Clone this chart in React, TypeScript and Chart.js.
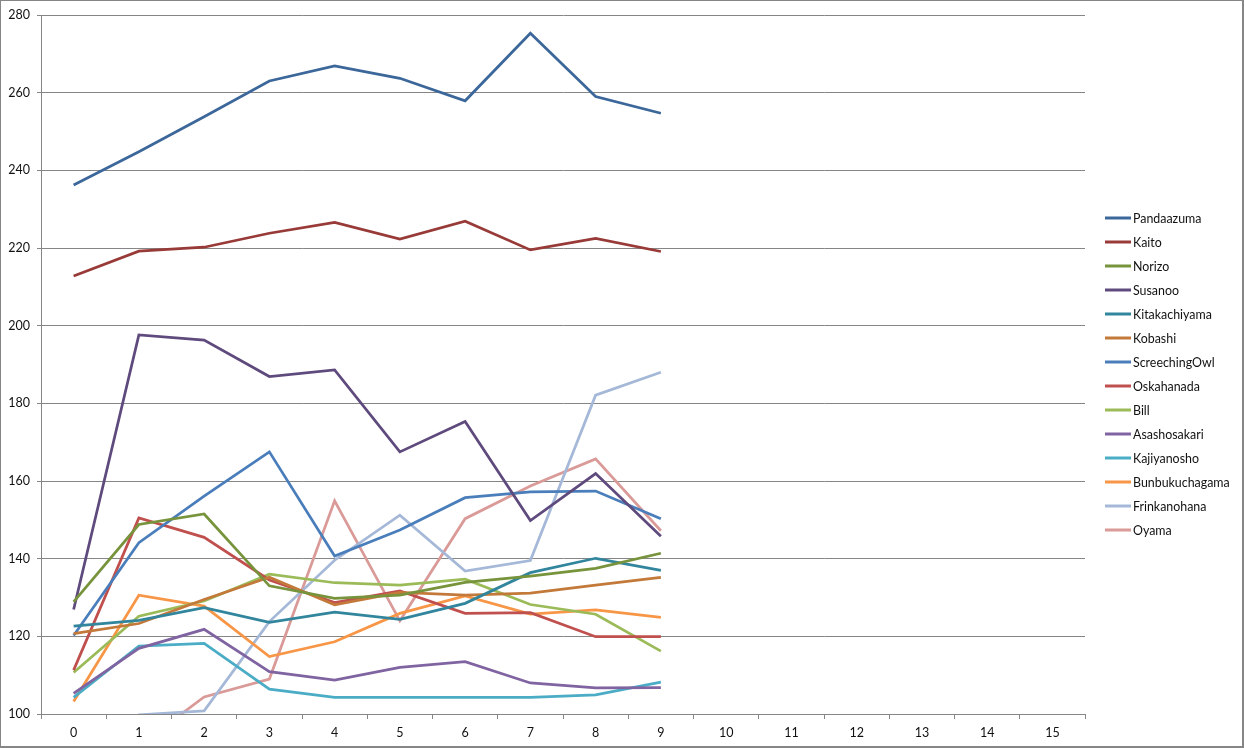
import React, { useEffect, useRef } from "react";
import { Chart, registerables } from "chart.js";

Chart.register(...registerables);

const categories = ["0", "1", "2", "3", "4", "5", "6", "7", "8", "9", "10", "11", "12", "13", "14", "15"];

const seriesNames = [
  "Pandaazuma", "Kaito", "Norizo", "Susanoo", "Kitakachiyama", "Kobashi", "ScreechingOwl",
  "Oskahanada", "Bill", "Asashosakari", "Kajiyanosho", "Bunbukuchagama", "Frinkanohana", "Oyama",
];

const seriesColors = [
  "#3C679A", "#983A37", "#77933C", "#5F4A7D", "#31859C", "#C3793A", "#4A7EBB",
  "#C0504D", "#9BBB59", "#8064A2", "#4BACC6", "#F79646", "#A5B8D8", "#D99A98",
];

const pandaazuma = [236.2, 244.8, 253.8, 263.0, 266.9, 263.7, 257.9, 275.3, 259.0, 254.7];
const kaito = [212.8, 219.2, 220.2, 223.8, 226.6, 222.3, 226.9, 219.5, 222.5, 219.1];
const norizo = [128.9, 148.8, 151.5, 133.0, 129.8, 130.6, 133.9, 135.5, 137.5, 141.4];
const susanoo = [126.9, 197.6, 196.3, 186.9, 188.6, 167.5, 175.3, 149.8, 161.9, 145.8];
const kitakachiyama = [122.6, 124.1, 127.4, 123.6, 126.2, 124.4, 128.5, 136.4, 140.1, 137.0];
const kobashi = [120.7, 123.3, 129.5, 135.2, 128.1, 131.3, 130.6, 131.1, 133.2, 135.2];
const screechingOwl = [120.2, 144.1, 156.1, 167.5, 140.7, 147.4, 155.7, 157.2, 157.4, 150.3];
const oskahanada = [111.3, 150.5, 145.5, 134.5, 128.7, 131.7, 125.9, 126.1, 119.9, 119.9];
const bill = [110.7, 125.2, 129.1, 136.0, 133.8, 133.2, 134.7, 128.2, 125.7, 116.2];
const asashosakari = [105.3, 116.9, 121.8, 110.9, 108.7, 112.0, 113.5, 108.0, 106.7, 106.8];
const kajiyanosho = [104.3, 117.5, 118.2, 106.4, 104.3, 104.3, 104.3, 104.3, 104.9, 108.2];
const bunbukuchagama = [103.2, 130.6, 127.8, 114.8, 118.6, 125.9, 130.4, 125.7, 126.8, 124.9];
const frinkanohana = [92.0, 99.8, 100.8, 123.8, 139.6, 151.2, 136.8, 139.5, 182.1, 188.0];
const oyama = [90.0, 91.8, 104.4, 109.0, 154.9, 124.0, 150.3, 158.7, 165.7, 147.2];

const seriesValues = [
  pandaazuma, kaito, norizo, susanoo, kitakachiyama, kobashi, screechingOwl,
  oskahanada, bill, asashosakari, kajiyanosho, bunbukuchagama, frinkanohana, oyama,
];

const yTicks = [100, 120, 140, 160, 180, 200, 220, 240, 260, 280];

const FONT = "Lato, 'Noto Sans', sans-serif";
const GRID = "#868686";

const sideLegend = {
  id: "sideLegend",
  afterDraw(chart: any) {
    const ctx = chart.ctx;
    ctx.save();
    chart.data.datasets.forEach((ds: any, i: number) => {
      const y = 218 + 24 * i;
      ctx.strokeStyle = ds.borderColor;
      ctx.lineWidth = 3;
      ctx.beginPath();
      ctx.moveTo(1105, y);
      ctx.lineTo(1131, y);
      ctx.stroke();
      ctx.fillStyle = "#111";
      ctx.font = `12.4px ${FONT}`;
      ctx.textBaseline = "middle";
      ctx.textAlign = "left";
      ctx.fillText(ds.label, 1133, y + 0.5);
    });
    ctx.restore();
  },
};

export default function App() {
  const ref = useRef<HTMLCanvasElement>(null);

  useEffect(() => {
    document.body.style.margin = "0";
    const canvas = ref.current!;
    const chart = new Chart(canvas, {
      type: "line",
      data: {
        labels: categories,
        datasets: seriesNames.map((name, i) => ({
          label: name,
          data: seriesValues[i],
          borderColor: seriesColors[i],
          backgroundColor: seriesColors[i],
          borderWidth: 2.75,
          pointRadius: 0,
          pointHoverRadius: 0,
          tension: 0,
          fill: false,
        })),
      },
      options: {
        responsive: false,
        animation: false,
        events: [],
        layout: { padding: { left: 0, top: 15, right: 159, bottom: 0 } },
        plugins: {
          legend: { display: false },
          tooltip: { enabled: false },
          title: { display: false },
        },
        scales: {
          x: {
            type: "category",
            offset: true,
            grid: {
              display: true,
              drawOnChartArea: false,
              drawTicks: true,
              tickLength: 5,
              offset: true,
              color: GRID,
              lineWidth: 1,
            },
            border: { display: true, color: GRID, width: 1 },
            ticks: {
              color: "#111",
              font: { family: FONT, size: 12.5 },
              padding: 6,
              maxRotation: 0,
              autoSkip: false,
            },
            afterFit(scale: any) {
              scale.height = 34;
            },
          },
          y: {
            type: "linear",
            min: 100,
            max: 280,
            afterBuildTicks(scale: any) {
              scale.ticks = yTicks.map((v) => ({ value: v }));
            },
            grid: {
              display: true,
              drawOnChartArea: true,
              drawTicks: true,
              tickLength: 4,
              color: GRID,
              lineWidth: 1,
            },
            border: { display: true, color: GRID, width: 1 },
            ticks: {
              color: "#111",
              font: { family: FONT, size: 12.5 },
              padding: 7,
            },
            afterFit(scale: any) {
              scale.width = 41;
            },
          },
        },
      },
      plugins: [sideLegend],
    });
    return () => chart.destroy();
  }, []);

  return (
    <div style={{ position: "relative", width: 1244, height: 748, background: "#fff" }}>
      <canvas ref={ref} width={1244} height={748} style={{ position: "absolute", left: 0, top: 0, width: 1244, height: 748 }} />
      <div
        style={{
          position: "absolute",
          left: 0,
          top: 0,
          width: 1244,
          height: 748,
          boxSizing: "border-box",
          borderTop: "1px solid #868686",
          borderLeft: "1px solid #868686",
          borderRight: "2px solid #868686",
          borderBottom: "2px solid #868686",
          pointerEvents: "none",
        }}
      />
    </div>
  );
}
